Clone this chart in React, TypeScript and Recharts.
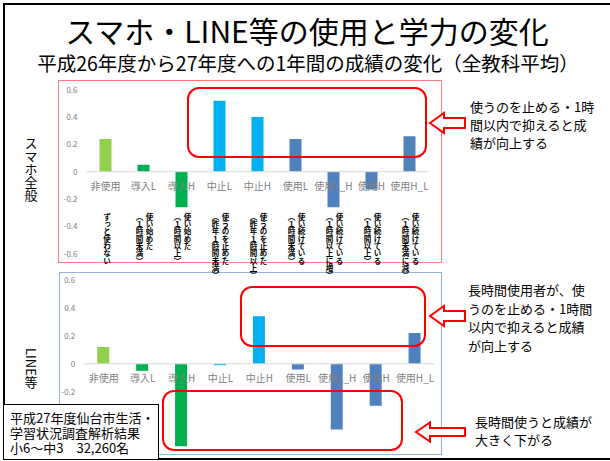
import React from 'react';
import { Bar, BarChart, Cell, ReferenceLine, XAxis, YAxis } from 'recharts';

const categories = ['非使用', '導入L', '導入H', '中止L', '中止H', '使用L', '使用L_H', '使用H', '使用H_L'];
const notes = [
  ['ずっと使わない'],
  ['使い始めた', '（１時間未満）'],
  ['使い始めた', '（１時間以上）'],
  ['使うのを止めた', '（昨年１時間未満）'],
  ['使うのを止めた', '（昨年１時間以上）'],
  ['使い続けている', '（１時間未満）'],
  ['使い続けている', '（１時間以上に増）'],
  ['使い続けている', '（１時間以上）'],
  ['使い続けている', '（１時間未満に減）'],
];
// 1年間の成績の変化（全教科平均）
const smartphoneAll = [0.24, 0.05, -0.26, 0.52, 0.4, 0.24, -0.26, -0.13, 0.26];
const lineEtc = [0.12, -0.05, -0.59, -0.01, 0.34, -0.04, -0.47, -0.3, 0.22];
const barColors = ['#92d050', '#00b050', '#00b050', '#00b0f0', '#00b0f0', '#4f81bd', '#4f81bd', '#4f81bd', '#4f81bd'];
const yTicksAll = [-0.6, -0.4, -0.2, 0, 0.2, 0.4, 0.6];
// the lower ticks of the LINE chart sit under the source box
const yTicksLine = [-0.2, 0, 0.2, 0.4, 0.6];

const FONT = '"Noto Sans CJK JP", "Noto Sans", sans-serif';

function CategoryTick(props: any) {
  const { x, y, payload, index, half, withNotes } = props;
  const zeroY = y - half;
  const lines: string[] = withNotes ? notes[index] : [];
  return (
    <g>
      <text
        x={x}
        y={zeroY + 14}
        textAnchor="middle"
        dominantBaseline="central"
        fontSize={10}
        fill="#808080"
        fontFamily={FONT}
      >
        {payload.value}
      </text>
      {lines.map((line, j) => (
        <text
          key={j}
          x={x + (lines.length === 1 ? 1.5 : 6 - j * 10)}
          y={zeroY + 41.5}
          fontSize={7.5}
          fontWeight="bold"
          letterSpacing={-0.2}
          fill="#000"
          fontFamily={FONT}
          style={{ writingMode: 'vertical-rl' }}
        >
          {line}
        </text>
      ))}
    </g>
  );
}

type Margin = { top: number; right: number; bottom: number; left: number };

function ChangeChart({ values, ticks, width, height, margin, yWidth, withNotes }: {
  values: number[];
  ticks: number[];
  width: number;
  height: number;
  margin: Margin;
  yWidth: number;
  withNotes: boolean;
}) {
  const data = categories.map((name, i) => ({ name, value: values[i] }));
  const xAxisHeight = 1;
  const half = (height - margin.top - margin.bottom - xAxisHeight) / 2;
  return (
    <BarChart width={width} height={height} data={data} margin={margin}>
      <XAxis
        dataKey="name"
        height={xAxisHeight}
        axisLine={false}
        tickLine={false}
        tickSize={0}
        tickMargin={0}
        interval={0}
        tick={<CategoryTick half={half} withNotes={withNotes} />}
      />
      <YAxis
        type="number"
        domain={[-0.6, 0.6]}
        ticks={ticks}
        interval={0}
        allowDataOverflow
        width={yWidth}
        axisLine={false}
        tickLine={false}
        tickSize={0}
        tickMargin={9}
        tick={{ fontSize: 8, fill: '#808080', fontFamily: FONT }}
      />
      <ReferenceLine y={0} stroke="#d9d9d9" />
      <Bar dataKey="value" barSize={12} isAnimationActive={false}>
        {data.map((d, i) => (
          <Cell key={d.name} fill={barColors[i]} />
        ))}
      </Bar>
    </BarChart>
  );
}

function LeftArrow({ tip, back, end, cy, head, shaft }: {
  tip: number; back: number; end: number; cy: number; head: number; shaft: number;
}) {
  const pts = [
    [tip, cy], [back, cy - head], [back, cy - shaft], [end, cy - shaft],
    [end, cy + shaft], [back, cy + shaft], [back, cy + head],
  ].map((p) => p.join(',')).join(' ');
  return <polygon points={pts} fill="#fff" stroke="#ff0000" strokeWidth={2} strokeLinejoin="miter" />;
}

const abs = (left: number, top: number, extra: React.CSSProperties = {}): React.CSSProperties => ({
  position: 'absolute', left, top, ...extra,
});

export default function App() {
  return (
    <div style={{ position: 'absolute', left: 0, top: 0, width: 610, height: 461, background: '#fff', overflow: 'hidden', fontFamily: FONT }}>
      <style>{'body{margin:0} .recharts-surface{overflow:visible}'}</style>

      {/* slide frame */}
      <div style={abs(3, 3, { width: 620, height: 453, border: '2px solid #000' })} />

      <div style={abs(0, 16, { width: 614, textAlign: 'center', fontSize: 30, lineHeight: '28px', color: '#000' })}>
        スマホ・LINE等の使用と学力の変化
      </div>
      <div style={abs(0, 53, { width: 616, textAlign: 'center', fontSize: 19.5, lineHeight: '19px', color: '#000' })}>
        平成26年度から27年度への1年間の成績の変化（全教科平均）
      </div>

      <div style={abs(24.5, 137, { writingMode: 'vertical-rl', fontSize: 13, lineHeight: '13px' })}>スマホ全般</div>
      <div style={abs(24.5, 348, { writingMode: 'vertical-rl', fontSize: 13, lineHeight: '13px' })}>LINE等</div>

      {/* LINE等 */}
      <div style={abs(59, 272, { width: 383, height: 183, boxSizing: 'border-box', border: '1px solid #95b3d7' })} />
      <div style={abs(59, 272)}>
        <ChangeChart
          values={lineEtc}
          ticks={yTicksLine}
          width={383}
          height={183}
          margin={{ top: 8, right: 7.5, bottom: 6.3, left: 0 }}
          yWidth={25.25}
          withNotes={false}
        />
      </div>

      {/* スマホ全般 */}
      <div style={abs(58, 80, { width: 384, height: 183, boxSizing: 'border-box', border: '1px solid #ff7c80' })} />
      <div style={abs(58, 80)}>
        <ChangeChart
          values={smartphoneAll}
          ticks={yTicksAll}
          width={384}
          height={183}
          margin={{ top: 9.7, right: 13.5, bottom: 8.3, left: 0 }}
          yWidth={28.5}
          withNotes
        />
      </div>

      <svg width={610} height={461} style={abs(0, 0, { pointerEvents: 'none' })}>
        <rect x={188} y={88} width={238} height={69} rx={11} fill="none" stroke="#ff0000" strokeWidth={2} />
        <rect x={241} y={287} width={184} height={59} rx={11} fill="none" stroke="#ff0000" strokeWidth={2} />
        <rect x={163} y={391} width={239} height={59} rx={11} fill="none" stroke="#ff0000" strokeWidth={2} />
        <LeftArrow tip={430} back={444} end={465} cy={123} head={10} shaft={5} />
        <LeftArrow tip={430} back={444} end={465} cy={316} head={10} shaft={5} />
        <LeftArrow tip={416} back={430} end={465} cy={432} head={9.5} shaft={4} />
      </svg>

      <div style={abs(470, 98, { fontSize: 13, lineHeight: '18px' })}>
        使うのを止める・1時<br />間以内で抑えると成<br />績が向上する
      </div>
      <div style={abs(468, 281, { fontSize: 13, lineHeight: '18.7px' })}>
        長時間使用者が、使<br />うのを止める・1時間<br />以内で抑えると成績<br />が向上する
      </div>
      <div style={abs(475, 413, { fontSize: 13, lineHeight: '18px' })}>
        長時間使うと成績が<br />大きく下がる
      </div>

      <div style={abs(3, 404, { width: 156, height: 56, boxSizing: 'border-box', border: '1.5px solid #000', background: '#fff', padding: '5px 0 0 6px', fontSize: 13, lineHeight: '15px', whiteSpace: 'nowrap' })}>
        平成27年度仙台市生活・<br />学習状況調査解析結果<br />小6～中3　32,260名
      </div>
    </div>
  );
}
